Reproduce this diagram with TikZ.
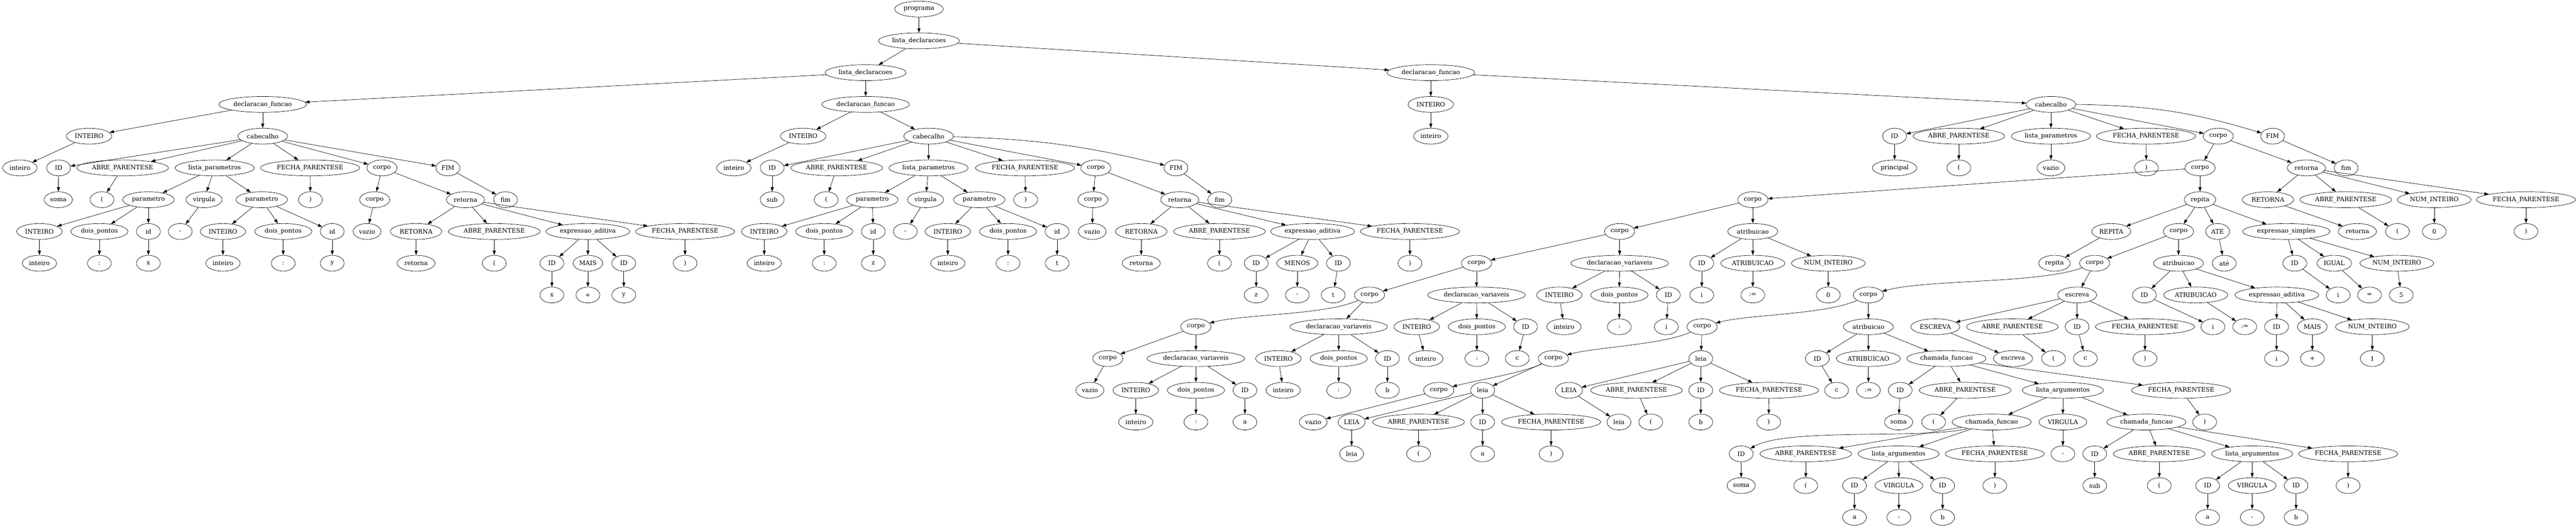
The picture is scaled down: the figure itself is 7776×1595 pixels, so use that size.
\documentclass[tikz,border=0pt]{standalone}
\usepackage{fontspec}
\setmainfont{DejaVu Serif}
\usetikzlibrary{shapes.geometric,arrows.meta}

\begin{document}
\begin{tikzpicture}[
  x=0.75pt, y=0.75pt,
  >={Triangle[length=10pt,width=7pt]},
  line width=0.8pt,
  nd/.style={draw,ellipse,inner xsep=4pt,inner ysep=2pt,minimum width=54pt,minimum height=36pt,font=\fontsize{14}{16}\selectfont},
  dip/.style={out=205,in=15,looseness=0.6}
]
\useasboundingbox (0,0) rectangle (7776,-1595);

\node[nd] (prog) at (2774,-27.5) {programa};
\node[nd] (ldA) at (2774,-123.5) {lista\_declaracoes};
\node[nd] (ldB) at (2613,-219.5) {lista\_declaracoes};
\node[nd] (dfP) at (4319,-219.5) {declaracao\_funcao};
\node[nd] (dfS) at (793,-315.5) {declaracao\_funcao};
\node[nd] (dfB) at (2613,-315.5) {declaracao\_funcao};

\node[nd] (sInt) at (269,-411.5) {INTEIRO};
\node[nd] (sInt2) at (60,-507.5) {inteiro};
\node[nd] (sCab) at (793,-411.5) {cabecalho};
\node[nd] (sId) at (177,-507.5) {ID};
\node[nd] (sIdv) at (176,-603.5) {soma};
\node[nd] (sAp) at (370,-507.5) {ABRE\_PARENTESE};
\node[nd] (sApv) at (308,-603.5) {(};
\node[nd] (sLp) at (648,-507.5) {lista\_parametros};
\node[nd] (sFp) at (936,-507.5) {FECHA\_PARENTESE};
\node[nd] (sFpv) at (937,-603.5) {)};
\node[nd] (sCo) at (1153,-507.5) {corpo};
\node[nd] (sFim) at (1352,-507.5) {FIM};
\node[nd] (sFimv) at (1526,-603.5) {fim};
\node[nd] (sPa1) at (448,-603.5) {parametro};
\node[nd] (sVg) at (616,-603.5) {virgula};
\node[nd] (sVgv) at (544,-699.5) {,};
\node[nd] (sPa2) at (790,-603.5) {parametro};
\node[nd] (sCo2) at (1131,-603.5) {corpo};
\node[nd] (sVz) at (1108,-699.5) {vazio};
\node[nd] (sRet) at (1405,-603.5) {retorna};
\node[nd] (sPa1t) at (119,-699.5) {INTEIRO};
\node[nd] (sPa1tv) at (119,-795.5) {inteiro};
\node[nd] (sPa1d) at (300,-699.5) {dois\_pontos};
\node[nd] (sPa1dv) at (300,-795.5) {:};
\node[nd] (sPa1i) at (448,-699.5) {id};
\node[nd] (sPa1iv) at (448,-795.5) {x};
\node[nd] (sPa2t) at (673,-699.5) {INTEIRO};
\node[nd] (sPa2tv) at (673,-795.5) {inteiro};
\node[nd] (sPa2d) at (855,-699.5) {dois\_pontos};
\node[nd] (sPa2dv) at (855,-795.5) {:};
\node[nd] (sPa2i) at (1003,-699.5) {id};
\node[nd] (sPa2iv) at (1003,-795.5) {y};
\node[nd] (sRR) at (1256,-699.5) {RETORNA};
\node[nd] (sRRv) at (1256,-795.5) {retorna};
\node[nd] (sRA) at (1492,-699.5) {ABRE\_PARENTESE};
\node[nd] (sRAv) at (1492,-795.5) {(};
\node[nd] (sEx) at (1774.5,-699.5) {expressao\_aditiva};
\node[nd] (sRF) at (2068,-699.5) {FECHA\_PARENTESE};
\node[nd] (sRFv) at (2068,-795.5) {)};
\node[nd] (sEx1) at (1666,-795.5) {ID};
\node[nd] (sEx1v) at (1666,-891.5) {x};
\node[nd] (sEx2) at (1774.5,-795.5) {MAIS};
\node[nd] (sEx2v) at (1774.5,-891.5) {+};
\node[nd] (sEx3) at (1883,-795.5) {ID};
\node[nd] (sEx3v) at (1883,-891.5) {y};

\node[nd] (bInt) at (2424.5,-411.5) {INTEIRO};
\node[nd] (bIntv) at (2215,-507.5) {inteiro};
\node[nd] (bCab) at (2803,-411.5) {cabecalho};
\node[nd] (bId) at (2331,-507.5) {ID};
\node[nd] (bIdv) at (2331,-603.5) {sub};
\node[nd] (bAp) at (2525.5,-507.5) {ABRE\_PARENTESE};
\node[nd] (bApv) at (2494,-603.5) {(};
\node[nd] (bLp) at (2803,-507.5) {lista\_parametros};
\node[nd] (bFp) at (3094,-507.5) {FECHA\_PARENTESE};
\node[nd] (bFpv) at (3096,-603.5) {)};
\node[nd] (bCo) at (3308,-507.5) {corpo};
\node[nd] (bFim) at (3550,-507.5) {FIM};
\node[nd] (bFimv) at (3682,-603.5) {fim};
\node[nd] (bPa1) at (2633,-603.5) {parametro};
\node[nd] (bVg) at (2794,-603.5) {virgula};
\node[nd] (bVgv) at (2733,-699.5) {,};
\node[nd] (bPa2) at (2956,-603.5) {parametro};
\node[nd] (bCo2) at (3299,-603.5) {corpo};
\node[nd] (bVz) at (3297,-699.5) {vazio};
\node[nd] (bRet) at (3561,-603.5) {retorna};
\node[nd] (bPa1t) at (2307,-699.5) {INTEIRO};
\node[nd] (bPa1tv) at (2307,-795.5) {inteiro};
\node[nd] (bPa1d) at (2488,-699.5) {dois\_pontos};
\node[nd] (bPa1dv) at (2488,-795.5) {:};
\node[nd] (bPa1i) at (2636,-699.5) {id};
\node[nd] (bPa1iv) at (2636,-795.5) {z};
\node[nd] (bPa2t) at (2861,-699.5) {INTEIRO};
\node[nd] (bPa2tv) at (2861,-795.5) {inteiro};
\node[nd] (bPa2d) at (3043,-699.5) {dois\_pontos};
\node[nd] (bPa2dv) at (3043,-795.5) {:};
\node[nd] (bPa2i) at (3191,-699.5) {id};
\node[nd] (bPa2iv) at (3191,-795.5) {t};
\node[nd] (bRR) at (3445,-699.5) {RETORNA};
\node[nd] (bRRv) at (3445,-795.5) {retorna};
\node[nd] (bRA) at (3681,-699.5) {ABRE\_PARENTESE};
\node[nd] (bRAv) at (3681,-795.5) {(};
\node[nd] (bEx) at (3962,-699.5) {expressao\_aditiva};
\node[nd] (bRF) at (4256,-699.5) {FECHA\_PARENTESE};
\node[nd] (bRFv) at (4256,-795.5) {)};
\node[nd] (bEx1) at (3792,-795.5) {ID};
\node[nd] (bEx1v) at (3792,-891.5) {z};
\node[nd] (bEx2) at (3916,-795.5) {MENOS};
\node[nd] (bEx2v) at (3916,-891.5) {-};
\node[nd] (bEx3) at (4040,-795.5) {ID};
\node[nd] (bEx3v) at (4024.5,-891.5) {t};

\node[nd] (pInt) at (4319,-315.5) {INTEIRO};
\node[nd] (pIntv) at (4319,-411.5) {inteiro};
\node[nd] (pCab) at (6191,-315.5) {cabecalho};
\node[nd] (pId) at (5719,-411.5) {ID};
\node[nd] (pIdv) at (5719,-507.5) {principal};
\node[nd] (pAp) at (5913,-411.5) {ABRE\_PARENTESE};
\node[nd] (pApv) at (5913,-507.5) {(};
\node[nd] (pLp) at (6191,-411.5) {lista\_parametros};
\node[nd] (pLpv) at (6191,-507.5) {vazio};
\node[nd] (pFp) at (6478,-411.5) {FECHA\_PARENTESE};
\node[nd] (pFpv) at (6479,-507.5) {)};
\node[nd] (pCo) at (6696,-411.5) {corpo};
\node[nd] (pFim) at (6860,-411.5) {FIM};
\node[nd] (pFimv) at (7082,-507.5) {fim};
\node[nd] (pCo1) at (6641,-507.5) {corpo};
\node[nd] (pRet) at (6962,-507.5) {retorna};
\node[nd] (pRR) at (6846,-603.5) {RETORNA};
\node[nd] (pRRv) at (7116,-699.5) {retorna};
\node[nd] (pRA) at (7081,-603.5) {ABRE\_PARENTESE};
\node[nd] (pRAv) at (7237,-699.5) {(};
\node[nd] (pRN) at (7348,-603.5) {NUM\_INTEIRO};
\node[nd] (pRNv) at (7348,-699.5) {0};
\node[nd] (pRF) at (7625,-603.5) {FECHA\_PARENTESE};
\node[nd] (pRFv) at (7625,-699.5) {)};
\node[nd] (pCo2) at (5291,-603.5) {corpo};
\node[nd] (pRep) at (6641,-603.5) {repita};
\node[nd] (pAt1) at (5291,-699.5) {atribuicao};
\node[nd] (pAt1a) at (5137,-795.5) {ID};
\node[nd] (pAt1av) at (5137,-891.5) {i};
\node[nd] (pAt1b) at (5291,-795.5) {ATRIBUICAO};
\node[nd] (pAt1bv) at (5291,-891.5) {:=};
\node[nd] (pAt1c) at (5519,-795.5) {NUM\_INTEIRO};
\node[nd] (pAt1cv) at (5519,-891.5) {0};
\node[nd] (pCo3) at (4889,-699.5) {corpo};
\node[nd] (pDv4) at (4889,-795.5) {declaracao\_variaveis};
\node[nd] (pDv4a) at (4707,-891.5) {INTEIRO};
\node[nd] (pDv4av) at (4721,-987.5) {inteiro};
\node[nd] (pDv4b) at (4888,-891.5) {dois\_pontos};
\node[nd] (pDv4bv) at (4888,-987.5) {:};
\node[nd] (pDv4c) at (5036,-891.5) {ID};
\node[nd] (pDv4cv) at (5030,-987.5) {i};
\node[nd] (pCo4) at (4457,-795.5) {corpo};
\node[nd] (pDv3) at (4457,-891.5) {declaracao\_variaveis};
\node[nd] (pDv3a) at (4276.5,-987.5) {INTEIRO};
\node[nd] (pDv3av) at (4304,-1083.5) {inteiro};
\node[nd] (pDv3b) at (4458,-987.5) {dois\_pontos};
\node[nd] (pDv3bv) at (4458,-1083.5) {:};
\node[nd] (pDv3c) at (4605,-987.5) {ID};
\node[nd] (pDv3cv) at (4580,-1083.5) {c};
\node[nd] (pCo5) at (4134,-891.5) {corpo};
\node[nd] (pDv2) at (4041,-987.5) {declaracao\_variaveis};
\node[nd] (pDv2a) at (3859,-1083.5) {INTEIRO};
\node[nd] (pDv2av) at (3873.5,-1179.5) {inteiro};
\node[nd] (pDv2b) at (4041,-1083.5) {dois\_pontos};
\node[nd] (pDv2bv) at (4041,-1179.5) {:};
\node[nd] (pDv2c) at (4188,-1083.5) {ID};
\node[nd] (pDv2cv) at (4188,-1179.5) {b};
\node[nd] (pCo6) at (3610,-987.5) {corpo};
\node[nd] (pDv1) at (3610,-1083.5) {declaracao\_variaveis};
\node[nd] (pDv1a) at (3428.5,-1179.5) {INTEIRO};
\node[nd] (pDv1av) at (3428.5,-1275.5) {inteiro};
\node[nd] (pDv1b) at (3610,-1179.5) {dois\_pontos};
\node[nd] (pDv1bv) at (3610,-1275.5) {:};
\node[nd] (pDv1c) at (3758,-1179.5) {ID};
\node[nd] (pDv1cv) at (3758,-1275.5) {a};
\node[nd] (pCo7) at (3344,-1083.5) {corpo};
\node[nd] (pVz7) at (3290,-1179.5) {vazio};

\node[nd] (rREP) at (6373,-699.5) {REPITA};
\node[nd] (rREPv) at (6201.5,-795.5) {repita};
\node[nd] (rCo) at (6576,-699.5) {corpo};
\node[nd] (rAte) at (6694,-699.5) {ATE};
\node[nd] (rAtev) at (6714,-795.5) {até};
\node[nd] (rEs) at (6901.5,-699.5) {expressao\_simples};
\node[nd] (rEsa) at (6927,-795.5) {ID};
\node[nd] (rEsav) at (7058,-891.5) {i};
\node[nd] (rEsb) at (7046,-795.5) {IGUAL};
\node[nd] (rEsbv) at (7152.5,-891.5) {=};
\node[nd] (rEsc) at (7235,-795.5) {NUM\_INTEIRO};
\node[nd] (rEscv) at (7248.5,-891.5) {5};
\node[nd] (rCo1) at (6323,-795.5) {corpo};
\node[nd] (rAt) at (6576,-795.5) {atribuicao};
\node[nd] (rAta) at (6473,-891.5) {ID};
\node[nd] (rAtav) at (6680,-987.5) {i};
\node[nd] (rAtb) at (6628,-891.5) {ATRIBUICAO};
\node[nd] (rAtbv) at (6776,-987.5) {:=};
\node[nd] (rEx) at (6873,-891.5) {expressao\_aditiva};
\node[nd] (rExa) at (6872,-987.5) {ID};
\node[nd] (rExav) at (6872,-1083.5) {i};
\node[nd] (rExb) at (6980,-987.5) {MAIS};
\node[nd] (rExbv) at (6980,-1083.5) {+};
\node[nd] (rExc) at (7161,-987.5) {NUM\_INTEIRO};
\node[nd] (rExcv) at (7161,-1083.5) {1};
\node[nd] (rCo2) at (5640,-891.5) {corpo};
\node[nd] (wEs) at (6270,-891.5) {escreva};
\node[nd] (wE1) at (5842,-987.5) {ESCREVA};
\node[nd] (wE1v) at (6076.5,-1083.5) {escreva};
\node[nd] (wE2) at (6074.5,-987.5) {ABRE\_PARENTESE};
\node[nd] (wE2v) at (6199,-1083.5) {(};
\node[nd] (wE3) at (6270,-987.5) {ID};
\node[nd] (wE3v) at (6295,-1083.5) {c};
\node[nd] (wE4) at (6475,-987.5) {FECHA\_PARENTESE};
\node[nd] (wE4v) at (6475,-1083.5) {)};
\node[nd] (rCo3) at (5138,-987.5) {corpo};
\node[nd] (rAt2) at (5640,-987.5) {atribuicao};
\node[nd] (rAt2a) at (5486,-1083.5) {ID};
\node[nd] (rAt2av) at (5544,-1179.5) {c};
\node[nd] (rAt2b) at (5640,-1083.5) {ATRIBUICAO};
\node[nd] (rAt2bv) at (5640,-1179.5) {:=};
\node[nd] (cf) at (5875.5,-1083.5) {chamada\_funcao};
\node[nd] (cfa) at (5736,-1179.5) {ID};
\node[nd] (cfav) at (5731,-1275.5) {soma};
\node[nd] (cfb) at (5932,-1179.5) {ABRE\_PARENTESE};
\node[nd] (cfbv) at (5837,-1275.5) {(};
\node[nd] (cfl) at (6227,-1179.5) {lista\_argumentos};
\node[nd] (cfd) at (6584,-1179.5) {FECHA\_PARENTESE};
\node[nd] (cfdv) at (6655,-1275.5) {)};
\node[nd] (cf1) at (6012,-1275.5) {chamada\_funcao};
\node[nd] (cf1a) at (5256,-1371.5) {ID};
\node[nd] (cf1av) at (5256,-1467.5) {soma};
\node[nd] (cf1b) at (5451,-1371.5) {ABRE\_PARENTESE};
\node[nd] (cf1bv) at (5451,-1467.5) {(};
\node[nd] (cf1l) at (5731,-1371.5) {lista\_argumentos};
\node[nd] (cf1d) at (6021.5,-1371.5) {FECHA\_PARENTESE};
\node[nd] (cf1dv) at (6021.5,-1467.5) {)};
\node[nd] (cf1la) at (5598,-1467.5) {ID};
\node[nd] (cf1lav) at (5598,-1563.5) {a};
\node[nd] (cf1lb) at (5732,-1467.5) {VIRGULA};
\node[nd] (cf1lbv) at (5732,-1563.5) {,};
\node[nd] (cf1lc) at (5864,-1467.5) {ID};
\node[nd] (cf1lcv) at (5864,-1563.5) {b};
\node[nd] (cfv) at (6227,-1275.5) {VIRGULA};
\node[nd] (cfvv) at (6227,-1371.5) {,};
\node[nd] (cf2) at (6479,-1275.5) {chamada\_funcao};
\node[nd] (cf2a) at (6323,-1371.5) {ID};
\node[nd] (cf2av) at (6323,-1467.5) {sub};
\node[nd] (cf2b) at (6518,-1371.5) {ABRE\_PARENTESE};
\node[nd] (cf2bv) at (6518,-1467.5) {(};
\node[nd] (cf2l) at (6798.5,-1371.5) {lista\_argumentos};
\node[nd] (cf2d) at (7088,-1371.5) {FECHA\_PARENTESE};
\node[nd] (cf2dv) at (7088,-1467.5) {)};
\node[nd] (cf2la) at (6664,-1467.5) {ID};
\node[nd] (cf2lav) at (6664,-1563.5) {a};
\node[nd] (cf2lb) at (6798.5,-1467.5) {VIRGULA};
\node[nd] (cf2lbv) at (6798.5,-1563.5) {,};
\node[nd] (cf2lc) at (6931,-1467.5) {ID};
\node[nd] (cf2lcv) at (6931,-1563.5) {b};
\node[nd] (rCo4) at (4689,-1083.5) {corpo};
\node[nd] (lA) at (5134,-1083.5) {leia};
\node[nd] (lAa) at (4736,-1179.5) {LEIA};
\node[nd] (lAav) at (4887,-1275.5) {leia};
\node[nd] (lAb) at (4940,-1179.5) {ABRE\_PARENTESE};
\node[nd] (lAbv) at (4983,-1275.5) {(};
\node[nd] (lAc) at (5134,-1179.5) {ID};
\node[nd] (lAcv) at (5134,-1275.5) {b};
\node[nd] (lAd) at (5340,-1179.5) {FECHA\_PARENTESE};
\node[nd] (lAdv) at (5339,-1275.5) {)};
\node[nd] (rCo5) at (4343,-1179.5) {corpo};
\node[nd] (rVz5) at (3964,-1275.5) {vazio};
\node[nd] (lB) at (4475.5,-1179.5) {leia};
\node[nd] (lBa) at (4080,-1275.5) {LEIA};
\node[nd] (lBav) at (4080,-1371.5) {leia};
\node[nd] (lBb) at (4282,-1275.5) {ABRE\_PARENTESE};
\node[nd] (lBbv) at (4282,-1371.5) {(};
\node[nd] (lBc) at (4475.5,-1275.5) {ID};
\node[nd] (lBcv) at (4475.5,-1371.5) {a};
\node[nd] (lBd) at (4682,-1275.5) {FECHA\_PARENTESE};
\node[nd] (lBdv) at (4682,-1371.5) {)};

\path[->] (prog) edge (ldA)
(ldA) edge (ldB) edge (dfP)
(ldB) edge (dfS) edge (dfB);

\path[->] (dfS) edge (sInt) edge (sCab)
(sInt) edge (sInt2)
(sCab) edge (sId) edge (sAp) edge (sLp) edge (sFp) edge (sCo) edge (sFim)
(sId) edge (sIdv)
(sAp) edge (sApv)
(sFp) edge (sFpv)
(sFim) edge (sFimv)
(sLp) edge (sPa1) edge (sVg) edge (sPa2)
(sVg) edge (sVgv)
(sPa1) edge (sPa1t) edge (sPa1d) edge (sPa1i)
(sPa1t) edge (sPa1tv)
(sPa1d) edge (sPa1dv)
(sPa1i) edge (sPa1iv)
(sPa2) edge (sPa2t) edge (sPa2d) edge (sPa2i)
(sPa2t) edge (sPa2tv)
(sPa2d) edge (sPa2dv)
(sPa2i) edge (sPa2iv)
(sCo) edge (sCo2) edge (sRet)
(sCo2) edge (sVz)
(sRet) edge (sRR) edge (sRA) edge (sEx) edge (sRF)
(sRR) edge (sRRv)
(sRA) edge (sRAv)
(sRF) edge (sRFv)
(sEx) edge (sEx1) edge (sEx2) edge (sEx3)
(sEx1) edge (sEx1v)
(sEx2) edge (sEx2v)
(sEx3) edge (sEx3v);

\path[->] (dfB) edge (bInt) edge (bCab)
(bInt) edge (bIntv)
(bCab) edge (bId) edge (bAp) edge (bLp) edge (bFp) edge (bCo) edge[bend left=6] (bFim)
(bId) edge (bIdv)
(bAp) edge (bApv)
(bFp) edge (bFpv)
(bFim) edge (bFimv)
(bLp) edge (bPa1) edge (bVg) edge (bPa2)
(bVg) edge (bVgv)
(bPa1) edge (bPa1t) edge (bPa1d) edge (bPa1i)
(bPa1t) edge (bPa1tv)
(bPa1d) edge (bPa1dv)
(bPa1i) edge (bPa1iv)
(bPa2) edge (bPa2t) edge (bPa2d) edge (bPa2i)
(bPa2t) edge (bPa2tv)
(bPa2d) edge (bPa2dv)
(bPa2i) edge (bPa2iv)
(bCo) edge (bCo2) edge (bRet)
(bCo2) edge (bVz)
(bRet) edge (bRR) edge (bRA) edge (bEx) edge (bRF)
(bRR) edge (bRRv)
(bRA) edge (bRAv)
(bRF) edge (bRFv)
(bEx) edge (bEx1) edge (bEx2) edge (bEx3)
(bEx1) edge (bEx1v)
(bEx2) edge (bEx2v)
(bEx3) edge (bEx3v);

\path[->] (dfP) edge (pInt) edge (pCab)
(pInt) edge (pIntv)
(pCab) edge (pId) edge (pAp) edge (pLp) edge (pFp) edge (pCo) edge[bend left=8] (pFim)
(pId) edge (pIdv)
(pAp) edge (pApv)
(pLp) edge (pLpv)
(pFp) edge (pFpv)
(pFim) edge (pFimv)
(pCo) edge (pCo1) edge (pRet)
(pRet) edge (pRR) edge (pRA) edge (pRN) edge (pRF)
(pRR) edge (pRRv)
(pRA) edge (pRAv)
(pRN) edge (pRNv)
(pRF) edge (pRFv)
(pCo1) edge (pCo2) edge (pRep)
(pCo2) edge (pCo3) edge (pAt1)
(pAt1) edge (pAt1a) edge (pAt1b) edge (pAt1c)
(pAt1a) edge (pAt1av)
(pAt1b) edge (pAt1bv)
(pAt1c) edge (pAt1cv)
(pCo3) edge (pCo4) edge (pDv4)
(pDv4) edge (pDv4a) edge (pDv4b) edge (pDv4c)
(pDv4a) edge (pDv4av)
(pDv4b) edge (pDv4bv)
(pDv4c) edge (pDv4cv)
(pCo4) edge (pCo5) edge (pDv3)
(pDv3) edge (pDv3a) edge (pDv3b) edge (pDv3c)
(pDv3a) edge (pDv3av)
(pDv3b) edge (pDv3bv)
(pDv3c) edge (pDv3cv)
(pCo5) edge[dip] (pCo6) edge (pDv2)
(pDv2) edge (pDv2a) edge (pDv2b) edge (pDv2c)
(pDv2a) edge (pDv2av)
(pDv2b) edge (pDv2bv)
(pDv2c) edge (pDv2cv)
(pCo6) edge (pCo7) edge (pDv1)
(pDv1) edge (pDv1a) edge (pDv1b) edge (pDv1c)
(pDv1a) edge (pDv1av)
(pDv1b) edge (pDv1bv)
(pDv1c) edge (pDv1cv)
(pCo7) edge (pVz7);

\path[->] (pRep) edge (rREP) edge (rCo) edge (rAte) edge (rEs)
(rREP) edge (rREPv)
(rAte) edge (rAtev)
(rEs) edge (rEsa) edge (rEsb) edge (rEsc)
(rEsa) edge (rEsav)
(rEsb) edge (rEsbv)
(rEsc) edge (rEscv)
(rCo) edge (rCo1) edge (rAt)
(rAt) edge (rAta) edge (rAtb) edge (rEx)
(rAta) edge (rAtav)
(rAtb) edge (rAtbv)
(rEx) edge (rExa) edge (rExb) edge (rExc)
(rExa) edge (rExav)
(rExb) edge (rExbv)
(rExc) edge (rExcv)
(rCo1) edge[out=200,in=15,looseness=0.6] (rCo2) edge (wEs)
(wEs) edge (wE1) edge (wE2) edge (wE3) edge (wE4)
(wE1) edge (wE1v)
(wE2) edge (wE2v)
(wE3) edge (wE3v)
(wE4) edge (wE4v)
(rCo2) edge[dip] (rCo3) edge (rAt2)
(rAt2) edge (rAt2a) edge (rAt2b) edge (cf)
(rAt2a) edge (rAt2av)
(rAt2b) edge (rAt2bv)
(cf) edge (cfa) edge (cfb) edge (cfl) edge (cfd)
(cfa) edge (cfav)
(cfb) edge (cfbv)
(cfd) edge (cfdv)
(cfl) edge (cf1) edge (cfv) edge (cf2)
(cfv) edge (cfvv)
(cf1) edge[out=195,in=30,looseness=0.5] (cf1a) edge (cf1b) edge (cf1l) edge (cf1d)
(cf1a) edge (cf1av)
(cf1b) edge (cf1bv)
(cf1d) edge (cf1dv)
(cf1l) edge (cf1la) edge (cf1lb) edge (cf1lc)
(cf1la) edge (cf1lav)
(cf1lb) edge (cf1lbv)
(cf1lc) edge (cf1lcv)
(cf2) edge (cf2a) edge (cf2b) edge (cf2l) edge (cf2d)
(cf2a) edge (cf2av)
(cf2b) edge (cf2bv)
(cf2d) edge (cf2dv)
(cf2l) edge (cf2la) edge (cf2lb) edge (cf2lc)
(cf2la) edge (cf2lav)
(cf2lb) edge (cf2lbv)
(cf2lc) edge (cf2lcv)
(rCo3) edge[dip] (rCo4) edge (lA)
(lA) edge (lAa) edge (lAb) edge (lAc) edge (lAd)
(lAa) edge (lAav)
(lAb) edge (lAbv)
(lAc) edge (lAcv)
(lAd) edge (lAdv)
(rCo4) edge[dip] (rCo5) edge (lB)
(rCo5) edge (rVz5)
(lB) edge (lBa) edge (lBb) edge (lBc) edge (lBd)
(lBa) edge (lBav)
(lBb) edge (lBbv)
(lBc) edge (lBcv)
(lBd) edge (lBdv);
\end{tikzpicture}
\end{document}
